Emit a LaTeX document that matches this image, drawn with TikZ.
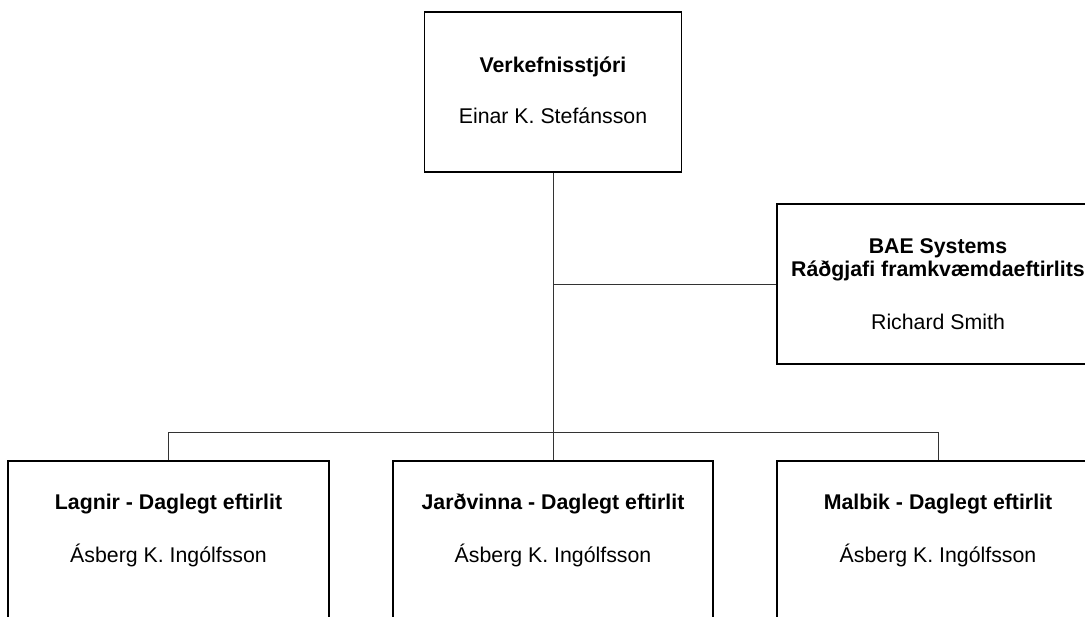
\documentclass[tikz,border=0pt]{standalone}
\usepackage{fontspec}
\setmainfont{Liberation Sans}
\begin{document}
\begin{tikzpicture}[x=1pt,y=-1pt,
  box/.style={draw=black,line width=1.4pt,rectangle,inner sep=0pt},
  conn/.style={draw=black!80,line width=0.9pt},
  ttl/.style={anchor=base,inner sep=0pt,font=\fontsize{21.3}{23}\selectfont\bfseries},
  nm/.style={anchor=base,inner sep=0pt,font=\fontsize{21.3}{23}\selectfont}]
\useasboundingbox (0,0) rectangle (1085,617);
% boxes
\node[box,minimum width=257pt,minimum height=160pt] (top) at (553,92) {};
\node[box,minimum width=322pt,minimum height=160pt] (bae) at (938,284) {};
\node[box,minimum width=321pt,minimum height=200pt] (lag) at (168.5,561) {};
\node[box,minimum width=320pt,minimum height=200pt] (jar) at (553,561) {};
\node[box,minimum width=322pt,minimum height=200pt] (mal) at (938,561) {};
% texts
\node[ttl] (topt) at (553,73) {Verkefnisstjóri};
\node[nm] (topn) at (553,124) {Einar K. Stefánsson};
\node[ttl] (baet1) at (938,254) {BAE Systems};
\node[ttl] (baet2) at (938,277) {Ráðgjafi framkvæmdaeftirlits};
\node[nm] (baen) at (938,330) {Richard Smith};
\node[ttl] (lagt) at (168.5,510) {Lagnir - Daglegt eftirlit};
\node[nm] (lagn) at (168.5,562) {Ásberg K. Ingólfsson};
\node[ttl] (jart) at (553,510) {Jarðvinna - Daglegt eftirlit};
\node[nm] (jarn) at (553,562) {Ásberg K. Ingólfsson};
\node[ttl] (malt) at (938,510) {Malbik - Daglegt eftirlit};
\node[nm] (maln) at (938,562) {Ásberg K. Ingólfsson};
% connectors
\coordinate (bar) at (553,432);
\draw[conn] (top.south) -- (jar.north);
\draw[conn] (top.south |- bae.west) -- (bae.west);
\draw[conn] (lag.north) -- (lag.north |- bar) -- (mal.north |- bar) -- (mal.north);
\end{tikzpicture}
\end{document}
